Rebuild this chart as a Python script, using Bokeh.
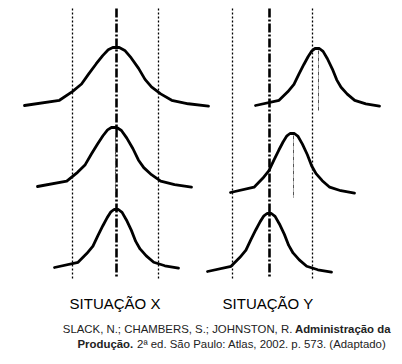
from bokeh.plotting import figure
from bokeh.models import Range1d, Label
from bokeh.embed import file_html
from bokeh.resources import INLINE

# ---------------- data ----------------
# Hand-drawn bell profile shared by all distributions:
# u = offset from the mean in half-widths, h = fraction of the peak height
profile_u = [-1.0, -0.62, -0.48, -0.38, -0.30, -0.22, -0.15, -0.09, -0.04, 0.03,
             0.09, 0.16, 0.24, 0.31, 0.38, 0.48, 0.60, 0.78, 1.0]
profile_h = [0.0, 0.09, 0.24, 0.37, 0.55, 0.72, 0.86, 0.96, 1.0, 1.0,
             0.95, 0.82, 0.64, 0.45, 0.32, 0.20, 0.09, 0.03, -0.01]

panel_titles = ["SITUAÇÃO X", "SITUAÇÃO Y"]
lower_limit = [-44, -37]     # relative to the target value
upper_limit = [42, 43]

# three successive distributions per situation (top -> bottom)
x_means = [0, -2, 0]
x_halfwidths = [92, 77, 62]
x_heights = [58, 59, 58]

y_means = [48, 23, 0]
y_halfwidths = [62, 62, 62]
y_heights = [57, 59, 58]

citation_1_normal = "SLACK, N.; CHAMBERS, S.; JOHNSTON, R. "
citation_1_bold = "Administração da"
citation_2_bold = "Produção."
citation_2_normal = " 2ª ed. São Paulo: Atlas, 2002. p. 573. (Adaptado)"

# ---------------- layout ----------------
FONT = "Liberation Sans"
panel_target_x = [116, 269]
row_baselines = [[105, 186, 267], [105, 192, 271]]
line_top, line_bottom = 8, 278

p = figure(width=402, height=364, x_range=Range1d(0, 402), y_range=Range1d(364, 0),
           x_axis_type=None, y_axis_type=None, toolbar_location=None,
           output_backend="svg", min_border=0)
p.grid.visible = False
p.outline_line_color = None
p.background_fill_color = "white"
p.border_fill_color = "white"

series = [(x_means, x_halfwidths, x_heights), (y_means, y_halfwidths, y_heights)]

for k in range(2):
    t = panel_target_x[k]
    # tolerance limits (dotted)
    for lim in (lower_limit[k], upper_limit[k]):
        p.line([t + lim, t + lim], [line_top, line_bottom], line_color="black",
               line_width=1.3, line_dash="2 2")
    # target (dash-dot, thick)
    p.line([t, t], [line_top, line_bottom], line_color="black", line_width=2.6,
           line_dash="9 2 2 2")
    means, halfw, heights = series[k]
    for r in range(3):
        base = row_baselines[k][r]
        xs = [t + means[r] + u * halfw[r] for u in profile_u]
        ys = [base - h * heights[r] for h in profile_h]
        p.line(xs, ys, line_color="black", line_width=2.8, line_join="round", line_cap="round")
        if means[r] != 0:
            mx = t + means[r] + 1
            p.line([mx, mx], [base - heights[r] + 2, base + 5], line_color="#555555",
                   line_width=1, line_dash="4 1 1 1")
    p.add_layout(Label(x=t - 1.5, y=303, text=panel_titles[k], text_align="center",
                       text_baseline="middle", text_font=FONT, text_font_size="15px",
                       text_color="black"))

# citation
cit_kw = dict(text_baseline="middle", text_font=FONT, text_font_size="11.4px",
              text_color="#222222")
p.add_layout(Label(x=390, y=328, text=citation_1_bold, text_align="right",
                   text_font_style="bold", **cit_kw))
p.add_layout(Label(x=295, y=328, text=citation_1_normal, text_align="right", **cit_kw))
p.add_layout(Label(x=77, y=343, text=citation_2_bold, text_align="left",
                   text_font_style="bold", **cit_kw))
p.add_layout(Label(x=389, y=343, text=citation_2_normal, text_align="right", **cit_kw))

open("out.html", "w").write(file_html(p, INLINE))
